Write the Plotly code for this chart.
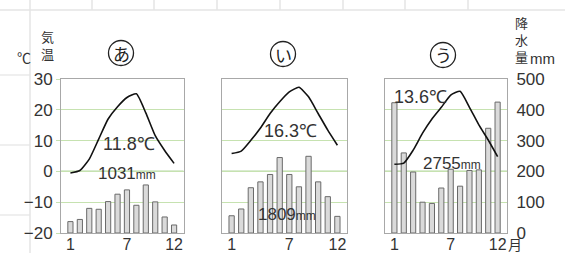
import plotly.graph_objects as go

# ---------------- data ----------------
months = list(range(1, 13))
month_ticks = [1, 7, 12]
month_tick_text = ["1", "7", "12"]

temp_a = [-0.5, 0.3, 4.0, 10.5, 17.0, 21.0, 24.0, 25.2, 19.0, 11.6, 6.8, 2.6]
prec_a = [37, 44, 80, 77, 102, 126, 140, 90, 156, 101, 52, 26]

temp_i = [5.8, 6.6, 10.1, 14.1, 18.8, 22.6, 25.8, 27.3, 24.2, 18.8, 13.4, 8.5]
prec_i = [56, 78, 147, 166, 190, 245, 190, 150, 249, 166, 118, 54]

temp_u = [2.3, 2.7, 6.9, 12.4, 17.0, 20.8, 24.8, 26.0, 20.8, 15.1, 10.2, 4.8]
prec_u = [423, 260, 198, 100, 96, 146, 207, 152, 203, 205, 340, 425]

panel_names = ["あ", "い", "う"]
temp_means = ["11.8℃", "16.3℃", "13.6℃"]
prec_totals = ["1031", "1809", "2755"]

temp_ticks = [-20, -10, 0, 10, 20, 30]
prec_ticks = [0, 100, 200, 300, 400, 500]
zero_prec = 200  # precipitation value level with 0 degC

# ---------------- layout helpers ----------------
W, H = 565, 253
def px(x):
    return x / W
def py(y):
    return 1 - y / H

num_font = "Liberation Sans, Arial, sans-serif"
jp_font = "Noto Sans CJK JP, sans-serif"
txt_col = "#333333"
grid_col = "#c6e2b0"
zero_col = "#6db04a"
frame_col = "#a8a8a8"

x_domains = [[px(61), px(183.5)], [px(222), px(347)], [px(385), px(507)]]
y_domain = [py(233), py(79)]

fig = go.Figure()
temps = [temp_a, temp_i, temp_u]
precs = [prec_a, prec_i, prec_u]

layout = dict(
    width=W, height=H, autosize=False,
    margin=dict(l=0, r=0, t=0, b=0, autoexpand=False),
    paper_bgcolor="white", plot_bgcolor="white",
    showlegend=False,
)

shapes = []
annotations = []

for i in range(3):
    xa = "x" if i == 0 else f"x{i+1}"
    ya_p = "y" if i == 0 else f"y{2*i+1}"
    ya_t = f"y{2*i+2}"
    xkey = "xaxis" if i == 0 else f"xaxis{i+1}"
    ykey_p = "yaxis" if i == 0 else f"yaxis{2*i+1}"
    ykey_t = f"yaxis{2*i+2}"

    fig.add_trace(go.Bar(
        x=months, y=precs[i], xaxis=xa, yaxis=ya_p, width=0.55,
        marker=dict(color="#dadada", line=dict(color="#6a6a6a", width=1)),
    ))
    fig.add_trace(go.Scatter(
        x=months, y=temps[i], xaxis=xa, yaxis=ya_t, mode="lines",
        line=dict(color="#111111", width=1.6, shape="spline", smoothing=0.5),
    ))

    layout[xkey] = dict(
        domain=x_domains[i], range=[0, 13], anchor=ya_p, automargin=False,
        tickvals=month_ticks, ticktext=list(month_tick_text),
        ticks="", ticklabelstandoff=-3,
        tickfont=dict(family=num_font, size=16, color=txt_col),
        showgrid=False, zeroline=False,
        showline=True, mirror=True, linecolor=frame_col, linewidth=1,
        fixedrange=True,
    )
    layout[ykey_p] = dict(
        domain=y_domain, range=[0, 500], anchor=xa, automargin=False,
        tickvals=prec_ticks, showgrid=True, gridcolor=grid_col, gridwidth=1,
        zeroline=False, showline=True, mirror=True, linecolor=frame_col, linewidth=1,
        side="right" if i == 2 else "left",
        showticklabels=(i == 2),
        ticks="outside" if i == 2 else "", ticklen=5, tickcolor="rgba(0,0,0,0)",
        tickfont=dict(family=num_font, size=17, color=txt_col),
        fixedrange=True,
    )
    layout[ykey_t] = dict(
        range=[-20, 30], overlaying=ya_p, anchor=xa, side="left", automargin=False,
        tickvals=temp_ticks, showgrid=False, zeroline=False,
        showticklabels=(i == 0), visible=(i == 0),
        ticks="outside", ticklen=4, tickcolor=grid_col,
        tickfont=dict(family=num_font, size=17, color=txt_col),
        showline=False, fixedrange=True,
    )
    # 0 degC line (darker green), at the matching precipitation level
    shapes.append(dict(
        type="line", xref=f"{xa} domain", x0=0, x1=1, yref=ya_p, y0=zero_prec, y1=zero_prec,
        line=dict(color=zero_col, width=1.4), layer="below",
    ))

# background faint table lines
bg = "#e4e4e4"
shapes.append(dict(type="line", xref="paper", yref="paper", x0=0, x1=1, y0=py(10), y1=py(10),
                   line=dict(color=bg, width=1.5), layer="below"))
for vx in [92, 154, 217, 280, 343, 405, 468]:
    shapes.append(dict(type="line", xref="paper", yref="paper", x0=px(vx), x1=px(vx), y0=1, y1=py(10),
                       line=dict(color=bg, width=1.5), layer="below"))
shapes.append(dict(type="line", xref="paper", yref="paper", x0=px(30), x1=px(30), y0=0, y1=1,
                   line=dict(color=bg, width=1.5), layer="below"))
for hy in [75, 145, 215]:
    shapes.append(dict(type="line", xref="paper", yref="paper", x0=0, x1=px(30), y0=py(hy), y1=py(hy),
                       line=dict(color=bg, width=1.2), layer="below"))

# circled panel labels
circle_centres = [(121, 53), (283, 54), (443, 55)]
for name, (cx, cy) in zip(panel_names, circle_centres):
    r = 12.5
    shapes.append(dict(type="circle", xref="paper", yref="paper",
                       x0=px(cx - r), x1=px(cx + r), y0=py(cy + r), y1=py(cy - r),
                       line=dict(color="#222222", width=1.3), layer="above"))
    annotations.append(dict(text=name, x=px(cx), y=py(cy), xref="paper", yref="paper",
                            showarrow=False, xanchor="center", yanchor="middle",
                            font=dict(family=jp_font, size=17, color="#222222")))

def ann(text, x, y, size, family=num_font, xanchor="center"):
    annotations.append(dict(text=text, x=px(x), y=py(y), xref="paper", yref="paper",
                            showarrow=False, xanchor=xanchor, yanchor="middle",
                            font=dict(family=family, size=size, color=txt_col)))

# axis headers (vertical Japanese text as stacked lines)
ann("℃", 24, 57, 14, jp_font)
ann("気<br>温", 47, 45, 13, jp_font)
ann("降<br>水<br>量", 521, 39, 13, jp_font)
ann("mm", 528, 58, 15, num_font, xanchor="left")
ann("月", 506, 244, 14, jp_font, xanchor="left")

# mean temperature / annual precipitation labels
mm = "<span style='font-size:12px'>mm</span>"
ann(temp_means[0], 129, 144, 18)
ann(prec_totals[0] + mm, 127, 173, 17)
ann(temp_means[1], 290, 131, 18)
ann(prec_totals[1] + mm, 287, 214, 17)
ann(temp_means[2], 420, 97, 18)
ann(prec_totals[2] + mm, 452, 163, 17)

layout["shapes"] = shapes
layout["annotations"] = annotations
layout["bargap"] = 0
fig.update_layout(**layout)

fig.write_html(
    "out.html",
    config={"displayModeBar": False, "staticPlot": True},
    post_script="document.body.style.margin='0px';document.body.style.overflow='hidden';",
)
